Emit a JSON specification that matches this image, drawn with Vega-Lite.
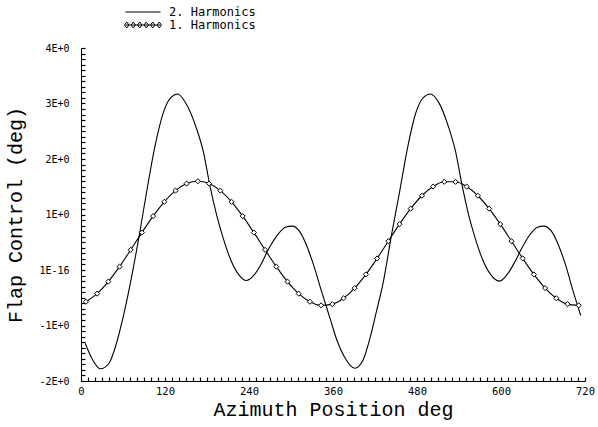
{
  "$schema": "https://vega.github.io/schema/vega-lite/v6.json",
  "width": 504,
  "height": 333,
  "autosize": {"type": "none"},
  "padding": {"left": 81, "top": 48, "right": 13, "bottom": 46},
  "background": "white",
  "config": {"view": {"stroke": null}, "font": "DejaVu Sans Mono"},
  "datasets": {
    "curves": [
      {"series": "2. Harmonics", "azimuth": 6, "value": -1.32},
      {"series": "2. Harmonics", "azimuth": 15, "value": -1.58},
      {"series": "2. Harmonics", "azimuth": 28, "value": -1.78},
      {"series": "2. Harmonics", "azimuth": 40, "value": -1.68},
      {"series": "2. Harmonics", "azimuth": 50, "value": -1.35},
      {"series": "2. Harmonics", "azimuth": 60, "value": -0.86},
      {"series": "2. Harmonics", "azimuth": 72, "value": -0.14},
      {"series": "2. Harmonics", "azimuth": 84, "value": 0.68},
      {"series": "2. Harmonics", "azimuth": 95, "value": 1.5},
      {"series": "2. Harmonics", "azimuth": 106, "value": 2.25},
      {"series": "2. Harmonics", "azimuth": 118, "value": 2.85},
      {"series": "2. Harmonics", "azimuth": 128, "value": 3.1},
      {"series": "2. Harmonics", "azimuth": 138, "value": 3.17},
      {"series": "2. Harmonics", "azimuth": 150, "value": 3.0},
      {"series": "2. Harmonics", "azimuth": 165, "value": 2.55},
      {"series": "2. Harmonics", "azimuth": 175, "value": 2.12},
      {"series": "2. Harmonics", "azimuth": 184, "value": 1.53},
      {"series": "2. Harmonics", "azimuth": 194, "value": 0.98},
      {"series": "2. Harmonics", "azimuth": 203, "value": 0.58},
      {"series": "2. Harmonics", "azimuth": 214, "value": 0.18},
      {"series": "2. Harmonics", "azimuth": 225, "value": -0.08},
      {"series": "2. Harmonics", "azimuth": 236, "value": -0.19},
      {"series": "2. Harmonics", "azimuth": 248, "value": -0.08},
      {"series": "2. Harmonics", "azimuth": 258, "value": 0.12},
      {"series": "2. Harmonics", "azimuth": 268, "value": 0.38},
      {"series": "2. Harmonics", "azimuth": 280, "value": 0.62},
      {"series": "2. Harmonics", "azimuth": 292, "value": 0.77},
      {"series": "2. Harmonics", "azimuth": 302, "value": 0.79},
      {"series": "2. Harmonics", "azimuth": 312, "value": 0.7},
      {"series": "2. Harmonics", "azimuth": 322, "value": 0.45},
      {"series": "2. Harmonics", "azimuth": 332, "value": 0.1},
      {"series": "2. Harmonics", "azimuth": 344, "value": -0.4},
      {"series": "2. Harmonics", "azimuth": 356, "value": -0.88},
      {"series": "2. Harmonics", "azimuth": 366, "value": -1.28},
      {"series": "2. Harmonics", "azimuth": 376, "value": -1.56},
      {"series": "2. Harmonics", "azimuth": 391, "value": -1.77},
      {"series": "2. Harmonics", "azimuth": 403, "value": -1.62},
      {"series": "2. Harmonics", "azimuth": 413, "value": -1.22},
      {"series": "2. Harmonics", "azimuth": 422, "value": -0.75},
      {"series": "2. Harmonics", "azimuth": 431, "value": -0.27},
      {"series": "2. Harmonics", "azimuth": 444, "value": 0.66},
      {"series": "2. Harmonics", "azimuth": 455, "value": 1.4},
      {"series": "2. Harmonics", "azimuth": 466, "value": 2.17},
      {"series": "2. Harmonics", "azimuth": 478, "value": 2.82},
      {"series": "2. Harmonics", "azimuth": 488, "value": 3.09},
      {"series": "2. Harmonics", "azimuth": 499, "value": 3.17},
      {"series": "2. Harmonics", "azimuth": 511, "value": 3.02},
      {"series": "2. Harmonics", "azimuth": 525, "value": 2.58},
      {"series": "2. Harmonics", "azimuth": 535, "value": 2.14},
      {"series": "2. Harmonics", "azimuth": 544, "value": 1.55},
      {"series": "2. Harmonics", "azimuth": 554, "value": 0.98},
      {"series": "2. Harmonics", "azimuth": 563, "value": 0.58},
      {"series": "2. Harmonics", "azimuth": 574, "value": 0.18},
      {"series": "2. Harmonics", "azimuth": 585, "value": -0.08},
      {"series": "2. Harmonics", "azimuth": 598, "value": -0.2},
      {"series": "2. Harmonics", "azimuth": 610, "value": -0.06},
      {"series": "2. Harmonics", "azimuth": 620, "value": 0.15},
      {"series": "2. Harmonics", "azimuth": 630, "value": 0.4},
      {"series": "2. Harmonics", "azimuth": 641, "value": 0.63},
      {"series": "2. Harmonics", "azimuth": 652, "value": 0.77},
      {"series": "2. Harmonics", "azimuth": 661, "value": 0.79},
      {"series": "2. Harmonics", "azimuth": 672, "value": 0.7},
      {"series": "2. Harmonics", "azimuth": 682, "value": 0.45},
      {"series": "2. Harmonics", "azimuth": 692, "value": 0.1},
      {"series": "2. Harmonics", "azimuth": 703, "value": -0.38},
      {"series": "2. Harmonics", "azimuth": 714, "value": -0.82},
      {"series": "1. Harmonics", "azimuth": 7, "value": -0.572},
      {"series": "1. Harmonics", "azimuth": 23, "value": -0.426},
      {"series": "1. Harmonics", "azimuth": 39, "value": -0.21},
      {"series": "1. Harmonics", "azimuth": 55, "value": 0.06},
      {"series": "1. Harmonics", "azimuth": 71, "value": 0.363},
      {"series": "1. Harmonics", "azimuth": 87, "value": 0.674},
      {"series": "1. Harmonics", "azimuth": 103, "value": 0.971},
      {"series": "1. Harmonics", "azimuth": 119, "value": 1.229},
      {"series": "1. Harmonics", "azimuth": 135, "value": 1.43},
      {"series": "1. Harmonics", "azimuth": 151, "value": 1.557},
      {"series": "1. Harmonics", "azimuth": 167, "value": 1.6},
      {"series": "1. Harmonics", "azimuth": 183, "value": 1.557},
      {"series": "1. Harmonics", "azimuth": 199, "value": 1.43},
      {"series": "1. Harmonics", "azimuth": 215, "value": 1.229},
      {"series": "1. Harmonics", "azimuth": 231, "value": 0.971},
      {"series": "1. Harmonics", "azimuth": 247, "value": 0.674},
      {"series": "1. Harmonics", "azimuth": 263, "value": 0.363},
      {"series": "1. Harmonics", "azimuth": 279, "value": 0.06},
      {"series": "1. Harmonics", "azimuth": 295, "value": -0.21},
      {"series": "1. Harmonics", "azimuth": 311, "value": -0.426},
      {"series": "1. Harmonics", "azimuth": 327, "value": -0.572},
      {"series": "1. Harmonics", "azimuth": 343, "value": -0.637},
      {"series": "1. Harmonics", "azimuth": 359, "value": -0.615},
      {"series": "1. Harmonics", "azimuth": 375, "value": -0.509},
      {"series": "1. Harmonics", "azimuth": 391, "value": -0.326},
      {"series": "1. Harmonics", "azimuth": 407, "value": -0.08},
      {"series": "1. Harmonics", "azimuth": 423, "value": 0.209},
      {"series": "1. Harmonics", "azimuth": 439, "value": 0.519},
      {"series": "1. Harmonics", "azimuth": 455, "value": 0.826},
      {"series": "1. Harmonics", "azimuth": 471, "value": 1.106},
      {"series": "1. Harmonics", "azimuth": 487, "value": 1.338},
      {"series": "1. Harmonics", "azimuth": 503, "value": 1.503},
      {"series": "1. Harmonics", "azimuth": 519, "value": 1.589},
      {"series": "1. Harmonics", "azimuth": 535, "value": 1.589},
      {"series": "1. Harmonics", "azimuth": 551, "value": 1.503},
      {"series": "1. Harmonics", "azimuth": 567, "value": 1.338},
      {"series": "1. Harmonics", "azimuth": 583, "value": 1.106},
      {"series": "1. Harmonics", "azimuth": 599, "value": 0.826},
      {"series": "1. Harmonics", "azimuth": 615, "value": 0.519},
      {"series": "1. Harmonics", "azimuth": 631, "value": 0.209},
      {"series": "1. Harmonics", "azimuth": 647, "value": -0.08},
      {"series": "1. Harmonics", "azimuth": 663, "value": -0.326},
      {"series": "1. Harmonics", "azimuth": 679, "value": -0.509},
      {"series": "1. Harmonics", "azimuth": 695, "value": -0.615},
      {"series": "1. Harmonics", "azimuth": 711, "value": -0.637}
    ]
  },
  "resolve": {"axis": {"x": "independent", "y": "independent"}},
  "layer": [
    {
      "data": {"name": "curves"},
      "mark": {"type": "line", "interpolate": "monotone", "strokeWidth": 1.1},
      "encoding": {
        "x": {
          "field": "azimuth",
          "type": "quantitative",
          "scale": {"domain": [0, 720], "nice": false, "zero": false},
          "axis": {
            "orient": "bottom",
            "title": "Azimuth Position deg",
            "titleFont": "Liberation Mono",
            "titleFontSize": 20,
            "titleFontWeight": "normal",
            "titleColor": "black",
            "titlePadding": 3,
            "values": [0, 120, 240, 360, 480, 600, 720],
            "labelFont": "DejaVu Sans Mono",
            "labelFontSize": 10.5,
            "labelColor": "black",
            "labelPadding": 5,
            "labelOverlap": false,
            "labelFlush": false,
            "ticks": false,
            "domainColor": "black",
            "grid": false
          }
        },
        "y": {
          "field": "value",
          "type": "quantitative",
          "scale": {"domain": [-2, 4], "nice": false, "zero": false},
          "axis": {
            "orient": "left",
            "title": "Flap Control (deg)",
            "titleFont": "Liberation Mono",
            "titleFontSize": 20,
            "titleFontWeight": "normal",
            "titleColor": "black",
            "titlePadding": 13,
            "values": [-2, -1, 0, 1, 2, 3, 4],
            "labelExpr": "datum.value === 0 ? '1E-16' : datum.value + 'E+0'",
            "labelFont": "DejaVu Sans Mono",
            "labelFontSize": 10,
            "labelColor": "black",
            "labelPadding": 12,
            "labelOverlap": false,
            "labelFlush": false,
            "ticks": false,
            "domainColor": "black",
            "grid": false
          }
        },
        "color": {
          "field": "series",
          "type": "nominal",
          "scale": {"domain": ["2. Harmonics", "1. Harmonics"], "range": ["black", "black"]},
          "legend": {
            "title": null,
            "orient": "none",
            "legendX": 56,
            "legendY": -42,
            "padding": 0,
            "rowPadding": 1,
            "symbolSize": 100,
            "symbolStrokeWidth": 1,
            "labelOffset": 20,
            "labelFont": "DejaVu Sans Mono",
            "labelFontSize": 12,
            "labelColor": "black",
            "encode": {
              "symbols": {
                "update": {
                  "shape": {"signal": "datum.label === '1. Harmonics' ? 'M-3.5,0L3.5,0M-3.69,0L-3.25,-0.6L-2.81,0L-3.25,0.6ZM-2.39,0L-1.95,-0.6L-1.51,0L-1.95,0.6ZM-1.09,0L-0.65,-0.6L-0.21,0L-0.65,0.6ZM0.21,0L0.65,-0.6L1.09,0L0.65,0.6ZM1.51,0L1.95,-0.6L2.39,0L1.95,0.6ZM2.81,0L3.25,-0.6L3.69,0L3.25,0.6Z' : 'M-3.5,0L3.5,0'"},
                  "fill": {"value": "white"},
                  "stroke": {"value": "black"}
                }
              }
            }
          }
        }
      }
    },
    {
      "data": {"name": "curves"},
      "transform": [{"filter": "datum.series === '1. Harmonics'"}],
      "mark": {"type": "point", "shape": "diamond", "size": 26, "filled": true, "fill": "white", "stroke": "black", "strokeWidth": 1, "opacity": 1},
      "encoding": {
        "x": {
          "field": "azimuth",
          "type": "quantitative",
          "axis": {
            "orient": "top",
            "offset": -333,
            "title": null,
            "labels": false,
            "domain": false,
            "grid": false,
            "ticks": true,
            "tickSize": 4,
            "tickWidth": 1.2,
            "tickColor": "black",
            "values": [0,10,20,30,40,50,60,70,80,90,100,110,120,130,140,150,160,170,180,190,200,210,220,230,240,250,260,270,280,290,300,310,320,330,340,350,360,370,380,390,400,410,420,430,440,450,460,470,480,490,500,510,520,530,540,550,560,570,580,590,600,610,620,630,640,650,660,670,680,690,700,710,720]
          }
        },
        "y": {
          "field": "value",
          "type": "quantitative",
          "axis": {
            "orient": "right",
            "offset": -504,
            "title": null,
            "labels": false,
            "domain": false,
            "grid": false,
            "ticks": true,
            "tickSize": 4,
            "tickWidth": 1.2,
            "tickColor": "black",
            "values": [-2,-1.9,-1.8,-1.7,-1.6,-1.5,-1.4,-1.3,-1.2,-1.1,-1,-0.9,-0.8,-0.7,-0.6,-0.5,-0.4,-0.3,-0.2,-0.1,0,0.1,0.2,0.3,0.4,0.5,0.6,0.7,0.8,0.9,1,1.1,1.2,1.3,1.4,1.5,1.6,1.7,1.8,1.9,2,2.1,2.2,2.3,2.4,2.5,2.6,2.7,2.8,2.9,3,3.1,3.2,3.3,3.4,3.5,3.6,3.7,3.8,3.9,4]
          }
        }
      }
    }
  ]
}
